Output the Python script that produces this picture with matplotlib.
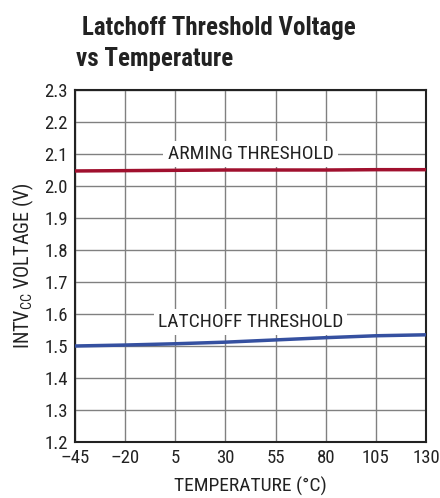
import numpy as np
import matplotlib.pyplot as plt

# Data
temperature = [-45, -20, 5, 30, 55, 80, 105, 130]
arming_v = [2.047, 2.048, 2.049, 2.050, 2.050, 2.050, 2.051, 2.051]
latchoff_v = [1.500, 1.503, 1.507, 1.512, 1.519, 1.526, 1.532, 1.535]

xticks = [-45, -20, 5, 30, 55, 80, 105, 130]
xtick_labels = ["\u201345", "\u201320", "5", "30", "55", "80", "105", "130"]
yticks = [1.2, 1.3, 1.4, 1.5, 1.6, 1.7, 1.8, 1.9, 2.0, 2.1, 2.2, 2.3]

plt.rcParams['font.family'] = ['Roboto Condensed', 'DejaVu Sans']
plt.rcParams['mathtext.fontset'] = 'custom'
plt.rcParams['mathtext.rm'] = 'Roboto Condensed'

fig = plt.figure(figsize=(4.4, 4.98), dpi=100)
ax = fig.add_axes([75 / 440, 1 - 442 / 498, 351 / 440, 352 / 498])

ax.plot(temperature, arming_v, color="#a0102e", lw=2.5, zorder=3)
ax.plot(temperature, latchoff_v, color="#3550a0", lw=2.5, zorder=3)

ax.set_xlim(-45, 130)
ax.set_ylim(1.2, 2.3)
ax.set_xticks(xticks)
ax.set_xticklabels(xtick_labels)
ax.set_yticks(yticks)
ax.set_yticklabels([f"{v:.1f}" for v in yticks])
ax.grid(True, color="#808080", lw=1)
ax.set_axisbelow(True)
ax.tick_params(length=0, labelsize=13.5, pad=5, colors="#222222")
for s in ax.spines.values():
    s.set_linewidth(1.5)
    s.set_color("#222222")

box = dict(facecolor="white", edgecolor="none", pad=3)
ax.text(42.5, 2.1, "ARMING THRESHOLD", ha="center", va="center",
        fontsize=14, color="#222222", bbox=box, zorder=4)
ax.text(42.5, 1.576, "LATCHOFF THRESHOLD", ha="center", va="center",
        fontsize=14, color="#222222", bbox=box, zorder=4)

ax.set_xlabel("TEMPERATURE (\u00b0C)", fontsize=14, color="#222222", labelpad=7)
ax.set_ylabel("INTV$_{\\mathregular{CC}}$ VOLTAGE (V)", fontsize=14.5, color="#222222", labelpad=6)

fig.text(82 / 440, 1 - 28 / 498, "Latchoff Threshold Voltage", fontsize=18,
         fontweight="bold", color="#222222", ha="left", va="center")
fig.text(76 / 440, 1 - 59 / 498, "vs Temperature", fontsize=18,
         fontweight="bold", color="#222222", ha="left", va="center")

fig.savefig("out.png", dpi=100)
